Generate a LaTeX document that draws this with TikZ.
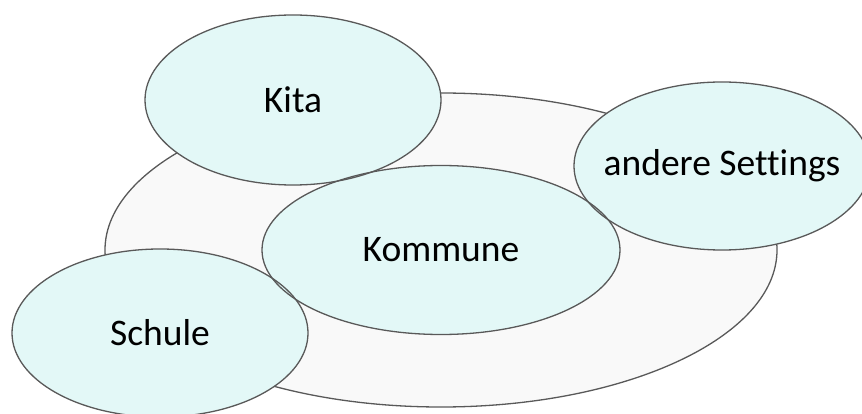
\documentclass[tikz,border=0pt]{standalone}
\usepackage{fontspec}
\setmainfont{Carlito}[Ligatures=NoCommon]
\usetikzlibrary{shapes.geometric}
\definecolor{cyanfill}{HTML}{E3F8F7}
\definecolor{grayfill}{HTML}{F9F9F9}
\definecolor{edge}{HTML}{595959}
\begin{document}
\begin{tikzpicture}[x=1pt,y=-1pt,
  bubble/.style={ellipse, draw=edge, line width=1.3pt, inner sep=0pt,
    minimum width=296pt, minimum height=170pt,
    label={[font=\fontsize{37.5}{45}\selectfont, inner sep=0pt]center:#1}},
  bubblefill/.style={fill=cyanfill}]
\useasboundingbox (0,0) rectangle (862,414);
\coordinate (cbig) at (441,250);
\coordinate (ckita) at (293,100);
\coordinate (ckom) at (441,250);
\coordinate (cand) at (722,166);
\coordinate (cschule) at (160,333);
\node[ellipse, draw=edge, fill=grayfill, line width=1.3pt, inner sep=0pt,
  minimum width=672pt, minimum height=314pt] (big) at (cbig) {};
\fill[bubblefill] (ckita) ellipse [x radius=148, y radius=85];
\fill[bubblefill] (cand) ellipse [x radius=148, y radius=84];
\fill[bubblefill] (ckom) ellipse [x radius=179, y radius=84.5];
\fill[bubblefill] (cschule) ellipse [x radius=148, y radius=84];
\node[bubble=Kita] (kita) at (ckita) {};
\node[bubble={andere Settings}, minimum height=168pt] (andere) at (cand) {};
\node[bubble=Kommune, minimum width=358pt, minimum height=169pt] (kommune) at (ckom) {};
\node[bubble=Schule, minimum height=168pt] (schule) at (cschule) {};
\end{tikzpicture}
\end{document}
